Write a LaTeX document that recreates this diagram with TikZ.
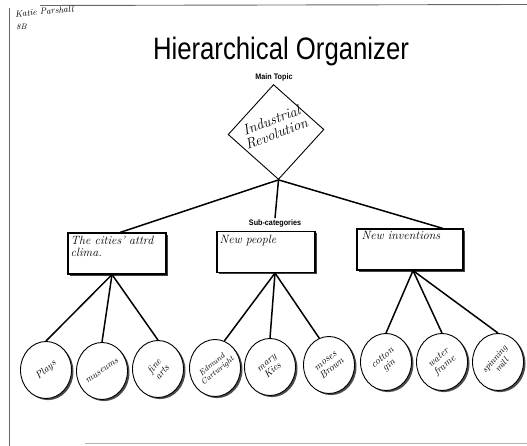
\documentclass[tikz,border=0pt]{standalone}
\usepackage{fontspec}
\setsansfont{Liberation Sans}
\usepackage{graphicx}
\usetikzlibrary{shapes.geometric,shadows,calc}
\begin{document}
\begin{tikzpicture}[x=1pt,y=-1pt,
  frame/.style={draw=black!60,line width=0.9pt},
  hand/.style={font=\itshape\fontsize{12}{11.5}\selectfont},
  handsm/.style={font=\itshape\fontsize{10}{10}\selectfont,align=center,inner sep=0pt},
  cat/.style={draw,line width=1.1pt,minimum width=98pt,minimum height=41pt,fill=white,inner sep=0pt,
    drop shadow={shadow xshift=1.8pt,shadow yshift=-1.8pt,fill=black!75,opacity=1}},
  leaf/.style={ellipse,draw,line width=0.9pt,minimum width=51pt,minimum height=57pt,fill=white,inner sep=0pt,
    drop shadow={shadow xshift=2pt,shadow yshift=-1.6pt,fill=black!70,opacity=1}},
  link/.style={line width=1.5pt},
  lbl/.style={font=\sffamily\bfseries\fontsize{8}{8}\selectfont,inner sep=1pt},
]
\useasboundingbox (0,0) rectangle (527,446);
% frame
\draw[frame] (9.5,8) -- (9.5,446);
\draw[frame] (40,5.5) -- (527,4.5);
\draw[draw=black!30,line width=0.8pt] (85,443.5) -- (527,443.5);

% handwritten name
\node[font=\itshape\fontsize{9}{9}\selectfont,rotate=5,anchor=west,inner sep=0pt] (name) at (15,14) {Katie Parshall};
\node[font=\itshape\fontsize{8}{9}\selectfont,anchor=west,inner sep=0pt] (grade) at (16,27) {8B};

% title
\node[font=\sffamily\fontsize{31}{31}\selectfont,anchor=base,inner sep=0pt] (title) at (281,60) {\scalebox{0.83}[1]{Hierarchical Organizer}};

% main topic
\node[lbl] (mainlbl) at (274,77) {\scalebox{0.9}[1]{Main Topic}};
\node[diamond,draw,line width=0.9pt,minimum width=96pt,minimum height=95pt,inner sep=0pt,rotate=3] (main) at (276,132) {};
\node[font=\itshape\fontsize{14.5}{14}\selectfont,rotate=21,align=center,inner sep=0pt] (maintxt) at (274,127) {Industrial\\Revolution};

% sub-categories label
\node[lbl] (sublbl) at (275,223) {\scalebox{0.9}[1]{Sub-categories}};

% category boxes
\node[cat] (lbox) at (117,253.5) {};
\node[cat] (mbox) at (266,252) {};
\node[cat,minimum width=106pt] (rbox) at (410,249.5) {};
\node[hand,anchor=north west,align=left,inner sep=0pt] (ltxt) at ($(lbox.north west)+(3,4)$) {The cities' attrd\\clima.};
\node[hand,anchor=north west,inner sep=0pt] (mtxt) at ($(mbox.north west)+(3,4)$) {New people};
\node[hand,anchor=north west,inner sep=0pt] (rtxt) at ($(rbox.north west)+(5,3)$) {New inventions};

% links from main topic
\draw[link] (main.south) -- ($(lbox.north)+(3,0)$);
\draw[link] (main.south) -- (sublbl.north);
\draw[link] (main.south) -- ($(rbox.north)+(33,0)$);

% leaves
\coordinate (la) at ($(lbox.south)+(-5,0)$);
\coordinate (ma) at ($(mbox.south)+(9,0)$);
\coordinate (ra) at ($(rbox.south)+(3,0)$);

\node[leaf] (l1) at (46,370) {};
\node[leaf] (l2) at (102,371) {};
\node[leaf] (l3) at (158,369) {};
\node[leaf] (l4) at (215,368) {};
\node[leaf] (l5) at (270,367) {};
\node[leaf] (l6) at (329,365) {};
\node[leaf] (l7) at (386,362) {};
\node[leaf] (l8) at (442,362) {};
\node[leaf] (l9) at (498,362) {};

\draw[link] (la) -- (l1.north);
\draw[link] (la) -- (l2.north);
\draw[link] (la) -- (l3.north);
\draw[link] (ma) -- (l4.71);
\draw[link] (ma) -- (l5.north);
\draw[link] (ma) -- (l6.110);
\draw[link] (ra) -- (l7.north);
\draw[link] (ra) -- (l8.north);
\draw[link] (ra) -- (l9.north);

\node[handsm,rotate=40] (t1) at (l1) {Plays};
\node[handsm,rotate=35,font=\itshape\fontsize{9.5}{10}\selectfont] (t2) at (l2) {museums};
\node[handsm,rotate=50] (t3) at (l3) {fine\\arts};
\node[handsm,rotate=40,font=\itshape\fontsize{8}{8.5}\selectfont] (t4) at (l4) {Edmund\\Cartwright};
\node[handsm,rotate=40] (t5) at (l5) {mary\\Kies};
\node[handsm,rotate=40] (t6) at (l6) {moses\\Brown};
\node[handsm,rotate=40] (t7) at (l7) {cotton\\gin};
\node[handsm,rotate=40] (t8) at (l8) {water\\frame};
\node[handsm,rotate=50,font=\itshape\fontsize{9}{9.5}\selectfont] (t9) at (l9) {spinning\\mill};
\end{tikzpicture}
\end{document}
